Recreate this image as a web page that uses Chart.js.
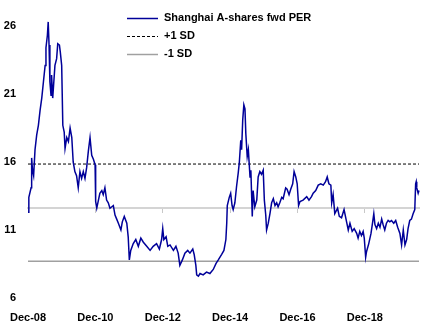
<!DOCTYPE html>
<html>
<head>
<meta charset="utf-8">
<script src="https://cdn.jsdelivr.net/npm/chart.js@4/dist/chart.umd.min.js"></script>
<style>
  html, body { margin: 0; padding: 0; background: #fff; }
  #wrap { width: 437px; height: 325px; position: relative; }
</style>
</head>
<body>
<div id="wrap"><canvas id="c" width="437" height="325"></canvas></div>
<script>
// Months elapsed since December 2008
const months = [
  0, 0.3, 1.1, 1.3, 1.6, 2.0, 2.5, 3.1, 3.7, 4.3,
  4.9, 5.5, 6.1, 6.4, 6.9, 7.2, 7.5, 7.8, 8.2, 8.4,
  8.8, 9.2, 9.6, 10.2, 10.6, 11.2, 11.5, 12.0, 12.4, 12.9,
  13.2, 13.8, 14.4, 15.0, 15.6, 16.1, 16.7, 17.3, 17.9, 18.5,
  19.1, 19.7, 20.3, 20.9, 21.5, 22.1, 22.7, 23.3, 23.9, 24.1,
  24.5, 25.0, 25.6, 26.3, 26.8, 27.4, 28.0, 28.6, 29.2, 30.4,
  31.0, 31.6, 32.2, 33.1, 33.6, 34.3, 35.2, 35.7, 36.1, 36.6,
  37.5, 38.4, 39.3, 40.2, 41.1, 42.3, 43.5, 44.6, 45.8, 46.8,
  47.6, 48.0, 48.4, 49.2, 49.8, 50.6, 51.8, 52.7, 53.5, 54.1,
  55.0, 55.9, 56.9, 57.7, 58.7, 59.2, 59.8, 60.1, 60.7, 61.3,
  62.4, 63.6, 64.8, 66.0, 67.0, 67.8, 69.0, 69.8, 70.5, 70.8,
  71.0, 71.7, 72.2, 72.7, 73.1, 73.7, 74.3, 74.9, 75.3, 75.8,
  76.1, 76.5, 76.9, 77.3, 77.6, 78.1, 78.5, 79.1, 79.4, 79.9,
  80.2, 80.8, 81.5, 82.0, 82.6, 83.2, 83.8, 84.2, 84.7, 85.0,
  85.6, 86.2, 86.8, 87.4, 88.0, 88.6, 89.1, 89.7, 90.4, 90.9,
  91.8, 92.3, 93.0, 93.6, 94.3, 94.8, 95.4, 95.9, 96.4, 96.9,
  98.0, 99.3, 100.1, 101.0, 101.6, 102.5, 103.4, 104.3, 105.2, 106.0,
  106.6, 107.2, 107.9, 108.2, 108.7, 109.3, 110.3, 110.9, 111.7, 112.6,
  113.5, 114.1, 114.7, 115.5, 116.2, 117.1, 117.6, 118.2, 118.8, 119.4,
  119.8, 120.3, 120.6, 121.4, 122.2, 122.8, 123.2, 123.6, 124.2, 124.8,
  125.4, 126.0, 126.5, 127.1, 127.7, 128.3, 128.9, 129.5, 130.3, 131.0,
  131.7, 132.5, 133.1, 133.7, 134.3, 134.9, 135.4, 136.0, 136.6, 137.2,
  137.8, 138.1, 138.3, 138.5, 139.0, 139.3
];

// Shanghai A-shares forward P/E
const per = [
  12.3, 13.4, 14.1, 16.3, 15.4, 15.0, 16.9, 18.0, 18.7, 19.8,
  20.7, 21.9, 23.1, 24.4, 25.3, 26.3, 24.6, 21.9, 20.9, 22.4,
  20.7, 21.9, 23.1, 23.6, 24.7, 24.6, 24.1, 23.1, 18.7, 18.2,
  17.0, 17.8, 17.5, 18.5, 17.8, 16.0, 15.3, 15.0, 14.1, 15.3,
  14.8, 15.3, 14.8, 15.6, 16.8, 17.8, 16.5, 16.2, 15.8, 13.1,
  12.6, 13.1, 13.7, 13.9, 13.6, 14.1, 13.2, 13.0, 12.6, 12.8,
  12.1, 11.8, 11.5, 11.0, 11.6, 12.0, 11.5, 10.5, 8.8, 9.5,
  10.0, 10.3, 9.8, 10.4, 10.1, 9.8, 9.5, 9.8, 10.0, 9.6,
  10.3, 11.1, 10.3, 10.5, 9.8, 9.9, 9.5, 9.8, 9.3, 8.4,
  8.8, 9.3, 9.5, 9.3, 9.6, 9.2, 8.4, 7.7, 7.6, 7.8,
  7.7, 7.9, 7.8, 8.1, 8.55, 8.8, 9.2, 9.5, 10.3, 11.5,
  12.8, 13.4, 13.7, 12.8, 12.5, 13.0, 14.2, 15.2, 16.0, 17.6,
  16.9, 19.1, 20.2, 19.9, 18.1, 16.4, 16.9, 14.9, 15.4, 12.0,
  13.9, 12.7, 13.2, 14.9, 15.3, 15.1, 15.4, 13.2, 12.1, 11.0,
  11.5, 12.2, 13.0, 13.3, 12.8, 13.0, 12.7, 13.0, 13.4, 13.3,
  14.1, 14.0, 13.6, 14.0, 14.4, 15.3, 14.9, 14.4, 12.8, 13.1,
  13.2, 13.45, 13.2, 13.45, 13.7, 13.9, 14.3, 14.4, 14.3, 14.55,
  14.9, 14.4, 14.3, 13.0, 13.6, 12.2, 12.6, 12.0, 11.9, 12.5,
  11.6, 11.0, 11.5, 10.9, 11.1, 10.75, 10.4, 10.9, 10.6, 10.9,
  10.4, 9.0, 9.4, 10.0, 10.75, 11.6, 12.2, 11.4, 11.1, 11.5,
  11.2, 11.8, 11.4, 11.0, 11.5, 11.7, 11.6, 11.7, 11.5, 11.7,
  11.2, 10.75, 9.9, 11.0, 9.9, 10.3, 11.1, 11.7, 11.8, 12.2,
  12.5, 14.4, 14.55, 14.1, 13.7, 13.9
];

const plusOneSD = 15.85;
const minusOneSD = 8.7;
const xAxisCrossesAt = 12.6;

const seriesNames = ['Shanghai A-shares fwd PER', '+1 SD', '-1 SD'];
const xTickLabels = ['Dec-08', 'Dec-10', 'Dec-12', 'Dec-14', 'Dec-16', 'Dec-18'];
const monthsPerTick = 24;

const FONT = { family: '"Liberation Sans", Arial, sans-serif', size: 11, weight: 'bold' };
const firstMonth = months[0];
const lastMonth = months[months.length - 1];

// Vertical legend in the upper middle of the chart
const stackedLegend = {
  id: 'stackedLegend',
  afterDraw(chart) {
    const ctx = chart.ctx;
    const rows = [18, 36, 54];
    ctx.save();
    ctx.font = `${FONT.weight} ${FONT.size}px ${FONT.family}`;
    ctx.textBaseline = 'middle';
    ctx.textAlign = 'left';
    chart.data.datasets.forEach((ds, i) => {
      const y = rows[i];
      ctx.beginPath();
      ctx.strokeStyle = ds.borderColor;
      ctx.lineWidth = ds.borderWidth;
      ctx.setLineDash(ds.borderDash || []);
      ctx.moveTo(127, y + 0.5);
      ctx.lineTo(158, y + 0.5);
      ctx.stroke();
      ctx.setLineDash([]);
      ctx.fillStyle = '#000';
      ctx.fillText(ds.label, 164, y);
    });
    ctx.restore();
  }
};

new Chart(document.getElementById('c'), {
  type: 'line',
  data: {
    datasets: [
      {
        label: seriesNames[0],
        data: months.map((m, i) => ({ x: m, y: per[i] })),
        borderColor: '#000099',
        borderWidth: 1.5,
        pointRadius: 0,
        tension: 0,
        clip: false
      },
      {
        label: seriesNames[1],
        data: [{ x: firstMonth, y: plusOneSD }, { x: lastMonth, y: plusOneSD }],
        borderColor: '#000000',
        borderWidth: 1,
        borderDash: [3, 2],
        pointRadius: 0
      },
      {
        label: seriesNames[2],
        data: [{ x: firstMonth, y: minusOneSD }, { x: lastMonth, y: minusOneSD }],
        borderColor: '#a0a0a0',
        borderWidth: 1.5,
        pointRadius: 0
      }
    ]
  },
  options: {
    responsive: false,
    animation: false,
    devicePixelRatio: 1,
    layout: { padding: { top: 26, right: 18, left: 0, bottom: 0 } },
    plugins: { legend: { display: false }, tooltip: { enabled: false } },
    scales: {
      x: {
        type: 'linear',
        min: firstMonth,
        max: lastMonth,
        position: { y: xAxisCrossesAt },
        grid: { display: true, drawOnChartArea: false, drawTicks: true, tickLength: 4, color: '#c8c8c8', lineWidth: 1 },
        border: { display: true, color: '#d4d4d4', width: 2 },
        ticks: { display: false, stepSize: monthsPerTick, includeBounds: false }
      },
      xLabels: {
        type: 'linear',
        axis: 'x',
        min: firstMonth,
        max: lastMonth,
        position: 'bottom',
        // hidden tick marks only set the gap between the plot and the labels
        grid: { display: false, drawTicks: true, tickLength: 13 },
        border: { display: false },
        ticks: {
          stepSize: monthsPerTick,
          includeBounds: false,
          autoSkip: false,
          maxRotation: 0,
          font: FONT,
          color: '#000',
          padding: 0,
          callback: v => xTickLabels[Math.round(v / monthsPerTick)]
        },
        afterFit: s => { s.height = 27; }
      },
      y: {
        min: 6,
        max: 26,
        position: 'left',
        grid: { display: false, drawTicks: false },
        border: { display: false },
        ticks: { stepSize: 5, font: FONT, color: '#000', padding: 12 },
        afterFit: s => { s.width = 28; }
      }
    }
  },
  plugins: [stackedLegend]
});
</script>
</body>
</html>
